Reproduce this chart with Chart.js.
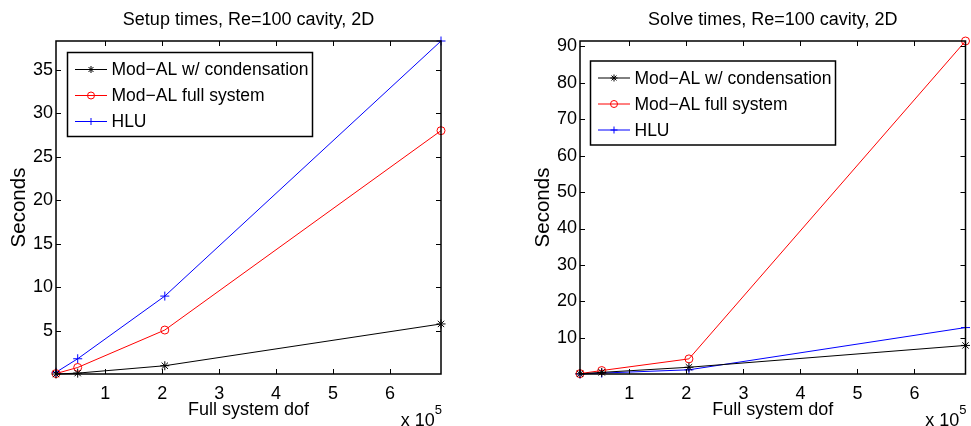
<!DOCTYPE html>
<html>
<head>
<meta charset="utf-8">
<script src="https://cdn.jsdelivr.net/npm/chart.js@4/dist/chart.umd.min.js"></script>
<style>
  body { margin: 0; background: #fff; }
  canvas { position: absolute; top: 0; }
  #setup { left: 0; }
  #solve { left: 490px; }
</style>
</head>
<body>
<canvas id="setup" width="490" height="426"></canvas>
<canvas id="solve" width="481" height="426"></canvas>
<script>
// Full system dof, same meshes in both plots
const dof = [13400, 51500, 204500, 689600];
const xTicks = [100000, 200000, 300000, 400000, 500000, 600000];

// Setup times (seconds)
const setupCondensed = [0.05, 0.15, 1.0, 5.8];
const setupFull = [0.1, 0.8, 5.1, 28.0];
const setupHLU = [0.25, 1.8, 9.0, 38.3];
const setupYTicks = [5, 10, 15, 20, 25, 30, 35];

// Solve times (seconds)
const solveCondensed = [0.1, 0.5, 1.9, 7.9];
const solveFull = [0.15, 1.0, 4.2, 91.5];
const solveHLU = [0.05, 0.3, 1.2, 12.8];
const solveYTicks = [10, 20, 30, 40, 50, 60, 70, 80, 90];

const seriesNames = ['Mod\u2212AL w/ condensation', 'Mod\u2212AL full system', 'HLU'];
const seriesColors = ['#000000', '#ff0000', '#0000ff'];
const seriesMarkers = ['star', 'circle', 'cross'];

const FONT = "'Liberation Sans', Arial, Helvetica, sans-serif";
Chart.defaults.font.family = FONT;
Chart.defaults.color = '#000';

function makeDatasets(seriesList) {
    return seriesList.map((vals, i) => ({
        label: seriesNames[i],
        data: vals.map((v, j) => ({ x: dof[j], y: v })),
        borderColor: seriesColors[i],
        backgroundColor: 'rgba(0,0,0,0)',
        pointBorderColor: seriesColors[i],
        pointBackgroundColor: 'rgba(0,0,0,0)',
        pointStyle: seriesMarkers[i],
        pointRadius: seriesMarkers[i] === 'circle' ? 4 : 4.5,
        pointBorderWidth: 1,
        borderWidth: 1,
        tension: 0,
        clip: false
    }));
}

// MATLAB style box, inward ticks, x10^5 label and legend inside the axes
const matlabAxes = {
    id: 'matlabAxes',
    afterDraw(chart, args, opts) {
        const ctx = chart.ctx;
        const a = chart.chartArea;
        const xs = chart.scales.x, ys = chart.scales.y;
        const tl = 5;
        ctx.save();
        ctx.strokeStyle = '#000';
        ctx.lineWidth = 1;
        ctx.beginPath();
        xs.ticks.forEach(t => {
            const px = Math.round(xs.getPixelForValue(t.value)) + 0.5;
            ctx.moveTo(px, a.bottom); ctx.lineTo(px, a.bottom - tl);
            ctx.moveTo(px, a.top); ctx.lineTo(px, a.top + tl);
        });
        ys.ticks.forEach(t => {
            const py = Math.round(ys.getPixelForValue(t.value)) + 0.5;
            ctx.moveTo(a.left, py); ctx.lineTo(a.left + tl, py);
            ctx.moveTo(a.right, py); ctx.lineTo(a.right - tl, py);
        });
        ctx.stroke();
        ctx.lineWidth = 1.5;
        ctx.strokeRect(a.left, a.top, a.right - a.left, a.bottom - a.top);

        // exponent
        ctx.fillStyle = '#000';
        ctx.textBaseline = 'alphabetic';
        ctx.textAlign = 'right';
        ctx.font = '13px ' + FONT;
        const w5 = ctx.measureText('5').width;
        ctx.fillText('5', a.right + 1, 414);
        ctx.font = '18px ' + FONT;
        ctx.fillText('x 10', a.right + 1 - w5, 426);

        // legend
        ctx.font = '17.5px ' + FONT;
        ctx.textAlign = 'left';
        ctx.textBaseline = 'middle';
        const ds = chart.data.datasets;
        const maxW = Math.max(...ds.map(d => ctx.measureText(d.label).width));
        const x0 = a.left + opts.dx, y0 = a.top + opts.dy;
        const w = 44 + maxW + 4, h = 84;
        ctx.fillStyle = '#fff';
        ctx.fillRect(x0, y0, w, h);
        ctx.lineWidth = 1.5;
        ctx.strokeStyle = '#000';
        ctx.strokeRect(x0, y0, w, h);
        ds.forEach((d, i) => {
            const y = y0 + 17 + i * 26;
            ctx.strokeStyle = d.borderColor;
            ctx.lineWidth = 1;
            ctx.beginPath();
            ctx.moveTo(x0 + 7.5, y); ctx.lineTo(x0 + 39.5, y);
            ctx.stroke();
            ctx.fillStyle = 'rgba(0,0,0,0)';
            Chart.helpers.drawPoint(ctx, {
                pointStyle: d.pointStyle, radius: 3.5, borderWidth: 1, rotation: 0
            }, x0 + 23.5, y);
            ctx.fillStyle = '#000';
            ctx.fillText(d.label, x0 + 44, y + 1);
        });
        ctx.restore();
    }
};

function makeChart(id, title, seriesList, yTicks, padLeft, padRight, legendPos) {
    const allY = seriesList.flat();
    return new Chart(document.getElementById(id), {
        type: 'line',
        data: { datasets: makeDatasets(seriesList) },
        options: {
            responsive: false,
            animation: false,
            layout: { padding: { left: padLeft, right: padRight, top: 0, bottom: 0 } },
            plugins: {
                legend: { display: false },
                tooltip: { enabled: false },
                title: {
                    display: true,
                    fullSize: false,
                    text: title,
                    color: '#000',
                    font: { size: 18, weight: 'normal' },
                    padding: { top: 9.5, bottom: 9.9 }
                },
                matlabAxes: legendPos
            },
            scales: {
                x: {
                    type: 'linear',
                    min: Math.min(...dof),
                    max: Math.max(...dof),
                    grid: { display: false, drawTicks: false },
                    border: { display: false },
                    afterBuildTicks: s => { s.ticks = xTicks.map(v => ({ value: v })); },
                    afterFit: s => { s.height = 52; },
                    ticks: {
                        callback: v => v / 1e5,
                        font: { size: 18 },
                        padding: 9,
                        maxRotation: 0,
                        autoSkip: false
                    },
                    title: {
                        display: true,
                        text: 'Full system dof',
                        font: { size: 18 },
                        padding: { top: 0, bottom: 5 }
                    }
                },
                y: {
                    type: 'linear',
                    min: Math.min(...allY),
                    max: Math.max(...allY),
                    grid: { display: false, drawTicks: false },
                    border: { display: false },
                    afterBuildTicks: s => { s.ticks = yTicks.map(v => ({ value: v })); },
                    afterFit: s => { s.width = 56; },
                    ticks: { font: { size: 18 }, padding: 3, autoSkip: false },
                    title: {
                        display: true,
                        text: 'Seconds',
                        font: { size: 20.5 },
                        padding: { top: 7, bottom: 0 }
                    }
                }
            }
        },
        plugins: [matlabAxes]
    });
}

makeChart('setup', 'Setup times, Re=100 cavity, 2D',
    [setupCondensed, setupFull, setupHLU], setupYTicks, 0, 49, { dx: 11.5, dy: 11.5 });
makeChart('solve', 'Solve times, Re=100 cavity, 2D',
    [solveCondensed, solveFull, solveHLU], solveYTicks, 34, 4, { dx: 10.5, dy: 20 });
</script>
</body>
</html>
